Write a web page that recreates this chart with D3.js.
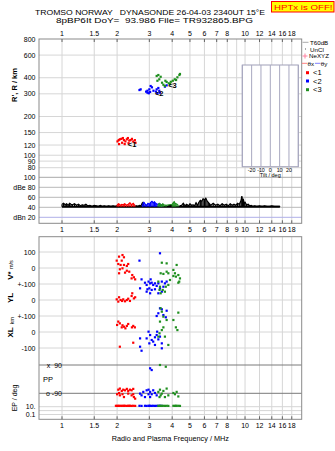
<!DOCTYPE html>
<html><head><meta charset="utf-8">
<script src="https://cdn.jsdelivr.net/npm/d3@7"></script>
<style>body{margin:0;background:#fff} svg{display:block} text{font-family:"Liberation Sans",Arial,sans-serif;fill:#000}</style>
</head><body><svg id="c" width="335" height="451"></svg>
<script>
// ---------- text ----------
const titleLine1 = "TROMSO NORWAY   DYNASONDE 26-04-03 2340UT 15°E";
const titleLine2 = "8pBP6It DoY=  93.986 File= TR932865.BPG";
const hptxText = "HPTx is OFF!";
const xTitle = "Radio and Plasma Frequency / MHz";

// ---------- ticks ----------
const freqTicksTop = [1,1.5,2,3,4,5,6,7,8,10,12,14,16,18];
const freqTicksMid = [1,1.5,2,3,4,5,6,7,8,9,10,12,14,16,18];
const freqTicksBot = [1,1.5,2,3,4,5,6,7,8,10,12,14,16,18];
const freqGrid = [1,1.5,2,3,4,5,6,7,8,9,10,12,14,16,18];
const rangeTicks = [800,600,400,300,200,150,120,100,90,80];
const dbTicks = [100,80,60,40,20];
const dbLabels = ["100","dBe 80","60","40","dBn 20"];
const tiltGrid = [-30,-20,-10,0,10,20,30];
const tiltTicks = [-20,-10,0,10,20];
const vTicks = [100,0], vLabels = ["100","0"];
const ylTicks = [100,0], ylLabels = ["+-100","0"];
const xlTicks = [100,0,-100], xlLabels = ["+-100","0","-100"];
const ppTicks = [90,-90], ppLabels = ["x  90","o -90"];
const epTicks = [10,1,0.1], epLabels = ["10.","0.1"];

// ---------- echoes: range vs frequency ----------
const echo1 = [[2.01,128],[2.04,131],[2.07,133],[2.11,134],[2.15,136],[2.18,131],[2.22,128],[2.26,133],[2.29,136],[2.33,130],[2.37,131],[2.41,134],[2.45,128],[2.50,131],[2.52,125],[2.05,122],[2.13,125],[2.20,122],[2.31,124]];
const echo2 = [[2.65,321],[2.69,325],[2.88,312],[2.93,317],[2.98,303],[3.03,310],[3.05,345],[3.10,337],[3.16,317],[3.00,325],[3.29,325],[3.36,333],[3.40,317],[3.43,306],[3.32,303],[3.65,341],[3.73,349],[2.93,306],[3.26,312]];
const echo3 = [[3.29,413],[3.36,420],[3.46,407],[3.40,389],[3.32,379],[3.52,366],[3.58,353],[3.67,379],[3.73,371],[3.83,362],[3.93,372],[4.03,379],[4.13,389],[4.20,384],[4.27,403],[4.38,420],[4.41,428],[3.89,357],[3.65,345]];
const echoLabels = [[2.29,115,"<1"],[3.22,291,"<2"],[3.80,333,"<3"]];

// ---------- amplitude ----------
const ampBlack = [[1.00,46],[1.02,48],[1.04,45],[1.06,47],[1.08,44],[1.10,48],[1.12,46],[1.14,45],[1.17,47],[1.20,44],[1.23,46],[1.26,43],[1.29,45],[1.32,44],[1.35,46],[1.38,43],[1.42,44],[1.46,42],[1.50,44],[1.54,43],[1.58,42],[1.62,44],[1.66,42],[1.70,43],[1.75,42],[1.80,43],[1.85,42],[1.90,43],[1.95,42],[2.00,43],[2.50,42],[2.55,43],[2.60,42],[2.65,44],[2.70,43],[2.75,49],[2.80,44],[3.80,43],[3.90,44],[4.00,43],[4.40,43],[4.50,44],[4.60,48],[4.70,43],[4.80,46],[4.90,43],[5.00,47],[5.10,44],[5.20,45],[5.30,43],[5.40,49],[5.50,44],[5.60,50],[5.70,54],[5.80,52],[5.90,57],[6.00,55],[6.10,58],[6.20,53],[6.30,50],[6.40,47],[6.50,44],[6.70,48],[6.90,44],[7.10,46],[7.30,43],[7.50,47],[7.70,44],[7.90,46],[8.10,43],[8.30,47],[8.50,44],[8.70,46],[8.90,44],[9.10,48],[9.30,46],[9.50,53],[9.60,62],[9.70,52],[9.80,55],[9.90,48],[10.0,50],[10.2,45],[10.4,46],[10.6,43],[10.8,44],[11.0,42],[11.3,43],[11.6,42],[12.0,43],[12.4,42],[12.8,43],[13.2,42],[13.6,42],[14.0,43],[14.5,42],[15.0,42],[15.5,42]];
const ampRed = [[2.00,45],[2.04,47],[2.08,44],[2.12,46],[2.16,45],[2.20,47],[2.25,44],[2.30,46],[2.35,49],[2.40,45],[2.45,48],[2.50,44]];
const ampBlue = [[2.75,45],[2.80,50],[2.85,46],[2.90,44],[2.95,48],[3.00,46],[3.05,50],[3.10,52],[3.15,49],[3.20,51],[3.25,48],[3.30,46],[3.40,47],[3.50,45]];
const ampGreen = [[3.35,45],[3.40,48],[3.45,46],[3.50,44],[3.55,47],[3.60,45],[3.70,44],[4.00,46],[4.05,49],[4.10,51],[4.15,48],[4.20,47],[4.30,45]];

// ---------- lower panel: V*, YL, XL, PP, EP ----------
const redV = [[1.99,46],[2.05,71],[2.14,81],[2.18,67],[2.09,19],[2.03,25],[2.18,19],[2.26,13],[2.30,25],[2.07,-8],[2.14,-2],[2.05,-33],[2.21,-29],[2.33,-23],[2.42,-44],[2.47,-58],[2.51,-71],[2.40,-65],[2.26,-17],[2.12,46]];
const redYL = [[1.99,4],[2.03,-10],[2.05,17],[2.09,0],[2.13,-6],[2.16,4],[2.21,-8],[2.26,0],[2.30,8],[2.35,-6],[2.40,25],[2.42,42],[2.47,10],[2.51,17]];
const redXL = [[2.00,44],[2.03,65],[2.07,54],[2.12,29],[2.14,42],[2.18,33],[2.22,23],[2.26,38],[2.30,50],[2.41,29],[2.45,38],[2.50,29],[2.07,-92],[2.45,-67]];
const redPP = [[2.03,-67],[2.07,-60],[2.12,-75],[2.16,-67],[2.21,-71],[2.26,-62],[2.30,-75],[2.35,-67],[2.40,-71],[2.45,-62],[2.00,-96],[2.07,-103],[2.14,-96],[2.18,-114],[2.45,-96],[2.47,-114],[2.51,-124],[2.05,-88],[2.30,-92],[2.40,-103]];
const redEP = [[1.97,17],[2.00,16],[2.03,17],[2.05,16],[2.09,17],[2.12,16],[2.16,17],[2.18,16],[2.21,17],[2.26,16],[2.30,17],[2.33,16],[2.35,17],[2.40,16],[2.45,17],[2.51,16]];

const blueV = [[3.43,92],[2.65,46],[2.67,-127],[2.72,-71],[2.84,-92],[2.90,-106],[2.97,-85],[3.03,-96],[3.09,-92],[3.00,-127],[2.90,-148],[3.03,-158],[3.09,-137],[3.15,-106],[3.22,-133],[3.29,-112],[3.36,-96],[3.43,-127],[3.51,-85],[3.58,-117],[3.65,-96],[3.73,-85],[3.51,-148],[3.36,-158],[3.22,-96],[3.05,-71],[2.93,-133]];
const blueYL = [[3.43,-52],[3.51,-58],[3.73,-67],[3.36,-83],[3.58,-94],[3.69,-108],[3.29,-100]];
const blueXL = [[2.97,2],[3.03,-19],[2.90,-40],[2.67,-40],[3.09,-50],[3.00,-71],[3.15,-60],[3.22,-33],[3.29,-19],[3.36,-46],[3.43,-29],[3.51,-71],[3.22,-81],[2.67,-92],[2.72,-117],[3.31,2],[3.51,-102]];
const bluePP = [[3.03,69],[3.09,58],[2.67,-92],[2.78,-81],[2.90,-71],[2.97,-67],[3.03,-81],[3.09,-96],[3.15,-71],[3.22,-88],[3.29,-103],[2.72,-103],[2.84,-114],[3.03,-114],[2.97,-96]];
const blueEP = [[2.65,17],[2.72,16],[2.84,17],[2.90,16],[2.97,17],[3.00,16],[3.03,17],[3.09,16],[3.15,17],[3.22,16],[3.29,17],[3.36,16],[3.43,17],[3.51,16]];

const greenV = [[3.51,33],[3.73,29],[4.23,19],[3.46,-33],[3.58,-37],[3.73,-23],[4.06,-12],[4.14,-33],[4.32,-44],[4.19,-54],[4.41,-65],[4.37,-85],[3.89,-75],[3.81,-106],[3.69,-117],[3.55,-137],[3.65,-148],[3.43,-117],[3.46,-158],[4.32,-92],[4.06,-50],[3.81,-33],[3.36,-85],[3.41,-137]];
const greenYL = [[3.46,-52],[3.51,-73],[3.58,-104],[3.43,-135],[4.32,-79],[4.06,-125],[3.73,-125]];
const greenXL = [[4.19,29],[4.27,12],[3.58,29],[3.51,12],[3.41,-8],[3.65,-29],[3.36,-29],[3.81,-81]];
const greenPP = [[3.43,90],[3.69,79],[3.36,-81],[3.43,-67],[3.51,-92],[3.58,-75],[3.73,-60],[3.81,-103],[4.06,-88],[4.14,-96],[4.23,-81],[4.32,-110],[3.65,-114],[3.41,-114],[3.46,-103]];
const greenEP = [[3.36,17],[3.41,16],[3.46,17],[3.51,16],[3.58,17],[3.65,16],[3.73,17],[3.81,16],[4.06,17],[4.14,16],[4.19,17],[4.23,16],[4.32,17],[4.41,16]];

const COL = {r:"#ff0000", b:"#0000ff", g:"#1f8f1f"};
const GRID = "#d6d6d6", FRAME = "#8a8a8a", DARK = "#7a7a7a";

// ---------- scales ----------
const X0 = 39, X1 = 301.7;
const x = d3.scaleLog().domain([0.7486, 20.4]).range([X0, X1]);
const yR = d3.scaleLog().domain([80, 800]).range([167.7, 39]);
const yA = d3.scaleLinear().domain([20, 100]).range([217.3, 177.3]);
const yV = d3.scaleLinear().domain([-100, 100]).range([284, 252]);
const yYL = d3.scaleLinear().domain([-100, 100]).range([316, 284]);
const yXL = d3.scaleLinear().domain([-100, 100]).range([348, 316]);
const yPP = d3.scaleLinear().domain([-90, 90]).range([393.3, 365]);
const yEP = d3.scaleLog().domain([0.1, 10]).range([414.5, 406.7]);
const tX = d3.scaleLinear().domain([-30, 30]).range([242.3, 298.3]);
const TOP0 = 39, TOP1 = 223.3, BOT0 = 236.7, BOT1 = 419.3;

const svg = d3.select("#c");

// ---------- title ----------
const mono = '"DejaVu Sans Mono","Liberation Mono",monospace';
svg.append("text").attr("x", 35).attr("y", 15.3).attr("font-family", mono).attr("font-size", 7.4)
  .attr("textLength", 230).attr("lengthAdjust", "spacingAndGlyphs").style("white-space","pre").text(titleLine1);
svg.append("text").attr("x", 56).attr("y", 23.3).attr("font-family", mono).attr("font-size", 7.4)
  .attr("textLength", 197).attr("lengthAdjust", "spacingAndGlyphs").style("white-space","pre").text(titleLine2);
svg.append("rect").attr("x", 271.5).attr("y", 1.5).attr("width", 62.5).attr("height", 10.5)
  .attr("fill", "#ffff00").attr("stroke", "#ff0000").attr("stroke-width", 1);
svg.append("text").attr("x", 274).attr("y", 9.8).attr("font-family", mono).attr("font-size", 7.6)
  .attr("textLength", 58.5).attr("lengthAdjust", "spacingAndGlyphs").style("fill", "#ff0000").text(hptxText);

// ---------- grids ----------
const g = svg.append("g");
function vgrid(y0, y1) {
  g.selectAll(null).data(freqGrid).enter().append("line")
    .attr("x1", d => x(d)).attr("x2", d => x(d)).attr("y1", y0).attr("y2", y1)
    .attr("stroke", GRID).attr("stroke-width", 1);
}
vgrid(TOP0, TOP1); vgrid(BOT0, BOT1);
function hgrid(vals, sc, col, w) {
  g.selectAll(null).data(vals).enter().append("line")
    .attr("x1", X0).attr("x2", X1).attr("y1", d => sc(d)).attr("y2", d => sc(d))
    .attr("stroke", col).attr("stroke-width", w || 1);
}
hgrid(rangeTicks.slice(1), yR, GRID);
hgrid([100], yA, "#a8a8a8");
hgrid([80, 60, 40], yA, "#b8b8b8");
hgrid([20], yA, "#b0b0e8");
hgrid(vTicks, yV, GRID);
hgrid(ylTicks, yYL, GRID);
hgrid(xlTicks, yXL, GRID);
hgrid(ppTicks, yPP, DARK);
hgrid(epTicks, yEP, GRID);

// frames
svg.append("rect").attr("x", X0).attr("y", TOP0).attr("width", X1 - X0).attr("height", TOP1 - TOP0)
  .attr("fill", "none").attr("stroke", FRAME);
svg.append("rect").attr("x", X0).attr("y", BOT0).attr("width", X1 - X0).attr("height", BOT1 - BOT0)
  .attr("fill", "none").attr("stroke", FRAME);

// ---------- freq axes ----------
function freqAxis(ticks, yLine, yText, dir) {
  svg.selectAll(null).data(ticks).enter().append("line")
    .attr("x1", d => x(d)).attr("x2", d => x(d)).attr("y1", yLine).attr("y2", yLine + 3 * dir)
    .attr("stroke", "#666");
  svg.selectAll(null).data(ticks).enter().append("text")
    .attr("x", d => x(d)).attr("y", yText).attr("text-anchor", "middle").attr("font-size", 7).text(d => d);
}
freqAxis(freqTicksTop, TOP0, 35.5, 1);
freqAxis(freqTicksMid, TOP1, 231.8, -1);
freqAxis(freqTicksBot, BOT1, 427.8, -1);
svg.append("text").attr("x", (X0 + X1) / 2).attr("y", 441).attr("text-anchor", "middle").attr("font-size", 7.3).text(xTitle);

// ---------- y labels ----------
function yLabels(vals, labels, sc, xr) {
  svg.selectAll(null).data(vals).enter().append("text")
    .attr("x", xr || 35.5).attr("y", d => sc(d) + 2.5).attr("text-anchor", "end").attr("font-size", 7)
    .style("white-space","pre").text((d, i) => labels ? labels[i] : d);
}
yLabels(rangeTicks, null, yR);
yLabels(dbTicks, dbLabels, yA);
yLabels(vTicks, vLabels, yV);
yLabels(ylTicks, ylLabels, yYL);
yLabels(xlTicks, xlLabels, yXL);
yLabels(ppTicks, ppLabels, yPP, 62);
yLabels([10, 0.1], epLabels, yEP);

function rot(txt, xx, yy, size, weight) {
  svg.append("text").attr("transform", `translate(${xx},${yy}) rotate(-90)`).attr("text-anchor", "middle")
    .attr("font-size", size).attr("font-weight", weight || "bold").text(txt);
}
rot("R', R / km", 16.5, 85, 7.5);
const vs = svg.append("text").attr("transform", "translate(13,270) rotate(-90)").attr("text-anchor", "middle");
vs.append("tspan").attr("font-size", 8).attr("font-weight", "bold").text("V* ");
vs.append("tspan").attr("font-size", 5.5).text("m/s");
rot("YL", 13, 298, 8);
rot("km", 14, 320.5, 5.5, "normal");
rot("XL", 13, 332.5, 8);
svg.append("text").attr("x", 43).attr("y", 382).attr("font-size", 7.5).text("PP");
rot("EP / deg", 16.5, 398, 7, "normal");

// ---------- tilt inset ----------
svg.append("rect").attr("x", tX(-30)).attr("y", 65).attr("width", tX(30) - tX(-30)).attr("height", 101.7)
  .attr("fill", "#fff").attr("stroke", "#a0a0b8");
svg.selectAll(null).data(tiltGrid).enter().append("line")
  .attr("x1", d => tX(d)).attr("x2", d => tX(d)).attr("y1", 65).attr("y2", 166.7).attr("stroke", "#a8a8c0");
svg.selectAll(null).data(tiltTicks).enter().append("text")
  .attr("x", d => tX(d)).attr("y", 171.5).attr("text-anchor", "middle").attr("font-size", 5.3).text(d => d);
svg.append("text").attr("x", tX(0)).attr("y", 177).attr("text-anchor", "middle").attr("font-size", 5.5).text("Tilt / deg");

// ---------- legend ----------
const L = svg.append("g");
const LF = 6.2;
L.append("line").attr("x1", 302.5).attr("x2", 308.5).attr("y1", 42.3).attr("y2", 42.3).attr("stroke", "#aaa");
L.append("text").attr("x", 310).attr("y", 44.6).attr("font-size", LF).text("T60dB");
L.append("rect").attr("x", 305).attr("y", 48.5).attr("width", 1).attr("height", 1).attr("fill", "#555");
L.append("text").attr("x", 310).attr("y", 51.6).attr("font-size", LF).text("UnCl");
L.append("path").attr("d", "M302.5,56H307.5M305,53.5V58.5").attr("stroke", "#ff80a0");
L.append("text").attr("x", 309).attr("y", 58.3).attr("font-size", LF).text("NeXYZ");
L.append("line").attr("x1", 302).attr("x2", 307).attr("y1", 63.3).attr("y2", 63.3).attr("stroke", "#ff8080");
L.append("text").attr("x", 307.5).attr("y", 65.6).attr("font-size", LF).text("θx");
L.append("line").attr("x1", 315).attr("x2", 320.5).attr("y1", 63.3).attr("y2", 63.3).attr("stroke", "#8080ff");
L.append("text").attr("x", 320.8).attr("y", 65.6).attr("font-size", LF).text("θy");
[["r", "<1", 72.7], ["b", "<2", 81], ["g", "<3", 89.7]].forEach(([c, t, yy]) => {
  L.append("rect").attr("x", 306).attr("y", yy - 1.5).attr("width", 3).attr("height", 3).attr("fill", COL[c]);
  L.append("text").attr("x", 313).attr("y", yy + 2.6).attr("font-size", 7.5).text(t);
});

// ---------- marks ----------
function dots(data, col, sy, s) {
  s = s || 2.2;
  svg.append("g").selectAll("rect").data(data).enter().append("rect")
    .attr("x", d => x(d[0]) - s / 2).attr("y", d => sy(d[1]) - s / 2).attr("width", s).attr("height", s).attr("fill", col);
}
dots(echo1, COL.r, yR); dots(echo2, COL.b, yR); dots(echo3, COL.g, yR);
svg.selectAll(null).data(echoLabels).enter().append("text")
  .attr("x", d => x(d[0])).attr("y", d => yR(d[1])).attr("font-size", 7.5)
  .attr("font-weight", "bold").text(d => d[2]);

// amplitude
const base = 41;
function amp(data, col) {
  const gg = svg.append("g");
  gg.selectAll("line").data(data).enter().append("line")
    .attr("x1", d => x(d[0])).attr("x2", d => x(d[0])).attr("y1", yA(base)).attr("y2", d => yA(d[1]))
    .attr("stroke", col).attr("stroke-width", 1.2);
  gg.append("path").datum(data).attr("d", d3.line().x(d => x(d[0])).y(d => yA(d[1])))
    .attr("fill", "none").attr("stroke", col).attr("stroke-width", 1.2);
}
svg.append("line").attr("x1", x(1)).attr("x2", x(15.5)).attr("y1", yA(base)).attr("y2", yA(base))
  .attr("stroke", "#000").attr("stroke-width", 2);
amp(ampBlack.filter(d => d[0] <= 2.0), "#000");
amp(ampBlack.filter(d => d[0] >= 2.5 && d[0] <= 2.8), "#000");
amp(ampBlack.filter(d => d[0] >= 3.8 && d[0] <= 4.0), "#000");
amp(ampBlack.filter(d => d[0] >= 4.4), "#000");
amp(ampRed, COL.r); amp(ampBlue, COL.b); amp(ampGreen, COL.g);

// lower panel
[[redV, redYL, redXL, redPP, redEP, COL.r], [blueV, blueYL, blueXL, bluePP, blueEP, COL.b], [greenV, greenYL, greenXL, greenPP, greenEP, COL.g]]
  .forEach(([v, yl, xl, pp, ep, c]) => {
    dots(v, c, yV); dots(yl, c, yYL); dots(xl, c, yXL); dots(pp, c, yPP); dots(ep, c, yEP);
  });
</script></body></html>
